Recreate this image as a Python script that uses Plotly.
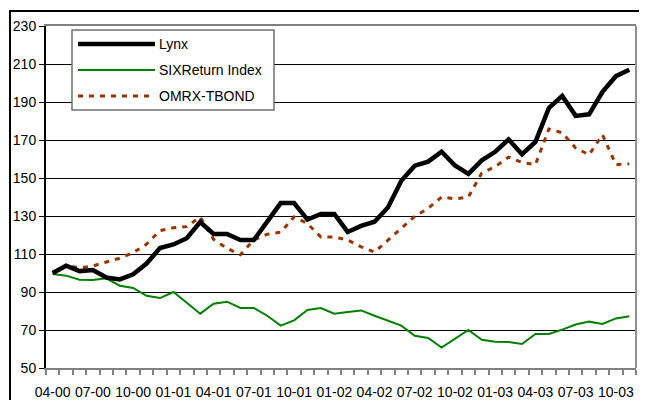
import plotly.graph_objects as go

months = ["04-00", "05-00", "06-00", "07-00", "08-00", "09-00", "10-00", "11-00", "12-00",
          "01-01", "02-01", "03-01", "04-01", "05-01", "06-01", "07-01", "08-01", "09-01",
          "10-01", "11-01", "12-01", "01-02", "02-02", "03-02", "04-02", "05-02", "06-02",
          "07-02", "08-02", "09-02", "10-02", "11-02", "12-02", "01-03", "02-03", "03-03",
          "04-03", "05-03", "06-03", "07-03", "08-03", "09-03", "10-03", "11-03"]

lynx = [100, 103.8, 101, 101.6, 97.6, 96.6, 99.3, 105, 113.1, 115,
        118.3, 126.8, 120.5, 120.5, 117.4, 117.4, 127, 136.8, 136.8, 128.1,
        131.1, 131.1, 121.6, 124.8, 127, 134.5, 148.5, 156.5, 158.6, 163.8,
        156.6, 152.2, 159.3, 163.8, 170.3, 162.5, 169, 186.8, 193.2, 182.7,
        183.5, 195.4, 203.6, 207]

six = [99.5, 98.6, 96.5, 96.3, 97.2, 93.3, 92.1, 88, 86.8, 90,
       84.3, 78.6, 83.8, 84.9, 81.6, 81.6, 77.5, 72.3, 75.1, 80.5,
       81.6, 78.6, 79.5, 80.3, 77.5, 74.9, 72.3, 67, 65.8, 60.8,
       65.3, 70, 64.9, 63.8, 63.7, 62.6, 67.9, 67.9, 70.2, 72.9,
       74.4, 73.2, 76.1, 77.2]

omrx = [99.5, 104, 102.7, 103.7, 105.8, 107.8, 110.7, 115.2, 122.3, 123.8,
        124.4, 129.5, 117.7, 113, 109.6, 117.4, 120.4, 121.5, 129.5, 126,
        119, 119, 117.3, 113.8, 111, 117.2, 123.2, 129.8, 134, 140,
        139, 140, 152.6, 156, 161, 158.2, 157, 175.8, 173.8, 165.8,
        162.2, 172.8, 157, 157.5]

series_names = ["Lynx", "SIXReturn Index", "OMRX-TBOND"]
y_ticks = [50, 70, 90, 110, 130, 150, 170, 190, 210, 230]

# page body has an 8px margin, so the figure is sized/offset to land on window pixels
OFF = 8
W, H = 647 - 2 * OFF, 408 - 2 * OFF
PL, PT, PR, PB = 46, 26, 636, 368          # plot area in window pixels
L, T = PL - OFF, PT - OFF
R, B = W - (PR - OFF), H - (PB - OFF)
PW, PH = PR - PL, PB - PT


def px(x):
    return (x - PL) / PW


def py(y):
    return (PB - y) / PH


FONT = "Liberation Sans, Arial, sans-serif"
BROWN = "#993300"
GREEN = "#008000"

x_idx = list(range(len(months)))

fig = go.Figure()
fig.add_trace(go.Scatter(x=x_idx, y=six, mode="lines", name=series_names[1],
                         line=dict(color=GREEN, width=2)))
fig.add_trace(go.Scatter(x=x_idx, y=omrx, mode="lines", name=series_names[2],
                         line=dict(color=BROWN, width=3, dash="5px,6px")))
fig.add_trace(go.Scatter(x=x_idx, y=lynx, mode="lines", name=series_names[0],
                         line=dict(color="black", width=4.5)))

shapes = []
# outer frame (only top and left edges fall inside the window)
shapes.append(dict(type="rect", xref="paper", yref="paper", x0=px(10), x1=px(700),
                   y0=py(460), y1=py(11), fillcolor="rgba(0,0,0,0)",
                   line=dict(color="black", width=2)))
# right border of plot area
shapes.append(dict(type="line", xref="paper", yref="paper", x0=1, x1=1, y0=0, y1=1,
                   line=dict(color="#909090", width=2)))
# legend box
shapes.append(dict(type="rect", xref="paper", yref="paper", x0=px(72), x1=px(274),
                   y0=py(110), y1=py(30), fillcolor="white",
                   line=dict(color="#707070", width=1.5)))
legend_styles = [dict(color="black", width=4.5),
                 dict(color=GREEN, width=2),
                 dict(color=BROWN, width=3, dash="5px,6px")]
legend_y = [44, 70, 96]
annotations = []
for name, st, yy in zip(series_names, legend_styles, legend_y):
    shapes.append(dict(type="line", xref="paper", yref="paper", x0=px(78), x1=px(155),
                       y0=py(yy), y1=py(yy), line=st))
    annotations.append(dict(xref="paper", yref="paper", x=px(157), y=py(yy), text=name,
                            showarrow=False, xanchor="left", yanchor="middle",
                            font=dict(family=FONT, size=14, color="black")))

fig.update_layout(
    width=W, height=H,
    margin=dict(l=L, r=R, t=T, b=B, pad=0),
    paper_bgcolor="white", plot_bgcolor="white",
    showlegend=False,
    shapes=shapes, annotations=annotations,
    font=dict(family=FONT, size=14, color="black"),
)
fig.update_xaxes(
    range=[-0.5, len(months) - 0.5],
    tickmode="array", tickvals=x_idx[::3], ticktext=months[::3],
    ticks="outside", ticklen=0, ticklabelstandoff=10,
    minor=dict(tickmode="array", tickvals=[i - 0.5 for i in range(len(months) + 1)],
               ticks="outside", ticklen=5, tickcolor="#808080", tickwidth=1.5,
               showgrid=False),
    showgrid=False, zeroline=False, automargin=False,
    showline=True, linecolor="#808080", linewidth=2, mirror=True,
    tickfont=dict(family=FONT, size=14, color="black"),
)
fig.update_yaxes(
    range=[50, 230], tickmode="array", tickvals=y_ticks,
    ticks="outside", ticklen=5, tickcolor="black", tickwidth=1,
    showgrid=True, gridcolor="black", gridwidth=1, zeroline=False, automargin=False,
    showline=True, linecolor="black", linewidth=2,
    tickfont=dict(family=FONT, size=14, color="black"),
)

fig.write_html("out.html")
